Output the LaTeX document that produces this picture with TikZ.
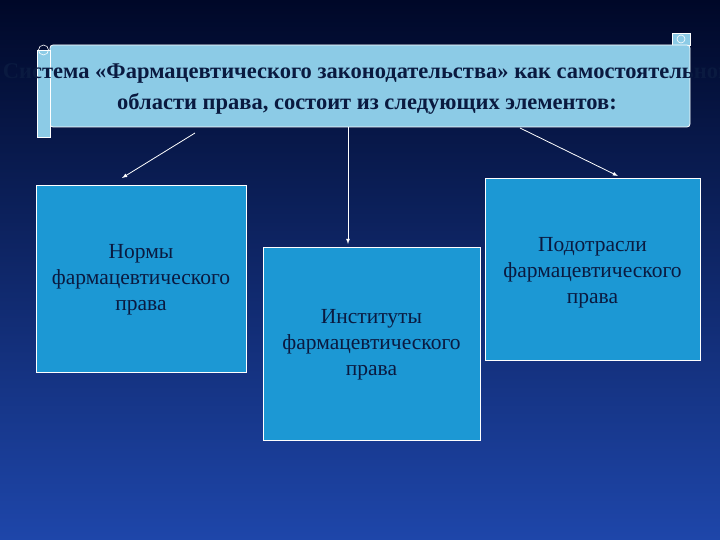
\documentclass[tikz,border=0pt]{standalone}
\usepackage{fontspec}
\setmainfont{Liberation Serif}
\begin{document}
\begin{tikzpicture}[x=1pt,y=-1pt,
 box/.style={draw=white,line width=0.8pt,fill=boxblue},
 lbl/.style={text=navy,font=\fontsize{21.5}{26}\selectfont,align=center},
 arr/.style={draw=white,line width=0.8pt,-latex}]
\definecolor{boxblue}{HTML}{1C98D4}
\definecolor{scroll}{HTML}{8CCBE6}
\definecolor{navy}{HTML}{0A1A40}
\useasboundingbox (0,0) rectangle (720,540);
\clip (0,0) rectangle (720,540);
\shade[top color={rgb,255:red,0;green,8;blue,40},bottom color={rgb,255:red,30;green,70;blue,170}] (0,0) rectangle (720,540);
% scroll
\path[fill=scroll,draw=white,line width=0.8pt] (672,33) rectangle (690,45);
\path[fill=scroll,draw=white,line width=0.8pt,rounded corners=3pt] (50,45) rectangle (690,127);
\path[fill=scroll,draw=white,line width=0.8pt] (37,50) rectangle (50,137);
\draw[white,line width=0.6pt] (43.5,50) circle (5);
\draw[white,line width=0.6pt] (681,39) circle (4);
\node[font=\bfseries\fontsize{22.5}{31}\selectfont,text=navy,align=center] (t) at (367,89)
 {Система «Фармацевтического законодательства» как самостоятельной\\области права, состоит из следующих элементов:};
\coordinate (s1) at (195,133);
\coordinate (s2) at (348,127);
\coordinate (s3) at (520,128);
% boxes
\node[box,minimum width=210pt,minimum height=187pt] (b1) at (141,278.5) {};
\node[box,minimum width=217pt,minimum height=193pt] (b2) at (371.5,343.5) {};
\node[box,minimum width=215pt,minimum height=182pt] (b3) at (592.5,269) {};
\node[lbl] at (141,280) {Нормы\\фармацевтического\\права};
\node[lbl] at (371.5,345) {Институты\\фармацевтического\\права};
\node[lbl] at (592.5,273) {Подотрасли\\фармацевтического\\права};
\draw[arr] (s1) -- (122,178);
\draw[arr] (s2) -- (348,244);
\draw[arr] (s3) -- (618,176);
\end{tikzpicture}
\end{document}
